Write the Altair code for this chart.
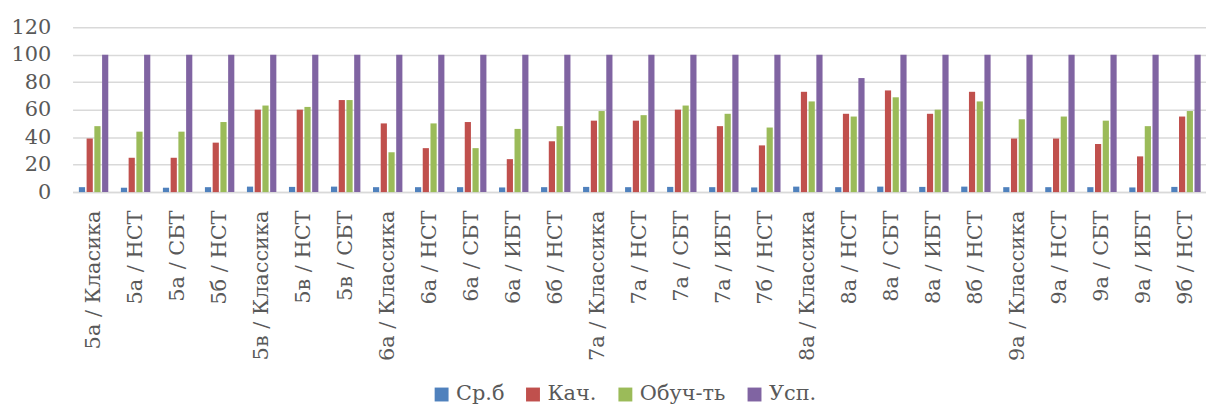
import altair as alt
import pandas as pd

categories = [
    "5а / Класика", "5а / НСТ", "5а / СБТ", "5б / НСТ", "5в / Классика", "5в / НСТ", "5в / СБТ",
    "6а / Классика", "6а / НСТ", "6а / СБТ", "6а / ИБТ", "6б / НСТ",
    "7а / Классика", "7а / НСТ", "7а / СБТ", "7а / ИБТ", "7б / НСТ",
    "8а / Классика", "8а / НСТ", "8а / СБТ", "8а / ИБТ", "8б / НСТ",
    "9а / Классика", "9а / НСТ", "9а / СБТ", "9а / ИБТ", "9б / НСТ",
]
series = ["Ср.б", "Кач.", "Обуч-ть", "Усп."]
colors = ["#4F81BD", "#C0504D", "#9BBB59", "#8064A2"]

sr_b = [3.6, 3.2, 3.2, 3.6, 4.0, 3.8, 4.0, 3.6, 3.6, 3.6, 3.4, 3.6, 3.8, 3.6, 3.8, 3.6, 3.4,
        4.0, 3.6, 4.0, 3.8, 4.0, 3.6, 3.6, 3.6, 3.4, 3.8]
kach = [39, 25, 25, 36, 60, 60, 67, 50, 32, 51, 24, 37, 52, 52, 60, 48, 34,
        73, 57, 74, 57, 73, 39, 39, 35, 26, 55]
obuch = [48, 44, 44, 51, 63, 62, 67, 29, 50, 32, 46, 48, 59, 56, 63, 57, 47,
         66, 55, 69, 60, 66, 53, 55, 52, 48, 59]
usp = [100, 100, 100, 100, 100, 100, 100, 100, 100, 100, 100, 100, 100, 100, 100, 100, 100,
       100, 83, 100, 100, 100, 100, 100, 100, 100, 100]

rows = []
for s, vals in zip(series, [sr_b, kach, obuch, usp]):
    for c, v in zip(categories, vals):
        rows.append({"cat": c, "series": s, "value": v})
df = pd.DataFrame(rows)

FONT = "DejaVu Serif"
GRAY = "#595959"

chart = alt.Chart(df).mark_bar().encode(
    x=alt.X("cat:N", sort=categories,
            scale=alt.Scale(paddingInner=0.3, paddingOuter=0.15, range=[0, 1142]),
            axis=alt.Axis(title=None, labelAngle=-90, labelPadding=18, labelFont=FONT,
                          labelFontSize=21, labelColor=GRAY, ticks=False, domain=True,
                          domainColor="#d9d9d9", domainWidth=1.5, labelLimit=400)),
    xOffset=alt.XOffset("series:N", sort=series,
                        scale=alt.Scale(paddingInner=0.2, paddingOuter=0)),
    y=alt.Y("value:Q", scale=alt.Scale(domain=[0, 120]),
            axis=alt.Axis(title=None, values=[0, 20, 40, 60, 80, 100, 120], labelFont=FONT,
                          labelFontSize=21, labelColor=GRAY, ticks=False, domain=False,
                          gridColor="#d9d9d9", gridWidth=1.5, labelPadding=22)),
    color=alt.Color("series:N", sort=series,
                    scale=alt.Scale(domain=series, range=colors),
                    legend=alt.Legend(title=None, orient="none", legendX=361, legendY=359,
                                      direction="horizontal", symbolType="square",
                                      symbolSize=196, symbolStrokeWidth=0,
                                      labelFont=FONT, labelFontSize=21, labelColor=GRAY,
                                      columnPadding=18, labelOffset=4)),
).properties(
    width=1141, height=166,
    autosize=alt.AutoSizeParams(type="none"),
    padding={"left": 65, "top": 18, "right": 0, "bottom": 219},
).configure(font=FONT).configure_view(strokeWidth=0)

chart.save("out.html", embed_options={"renderer": "svg", "actions": False})
